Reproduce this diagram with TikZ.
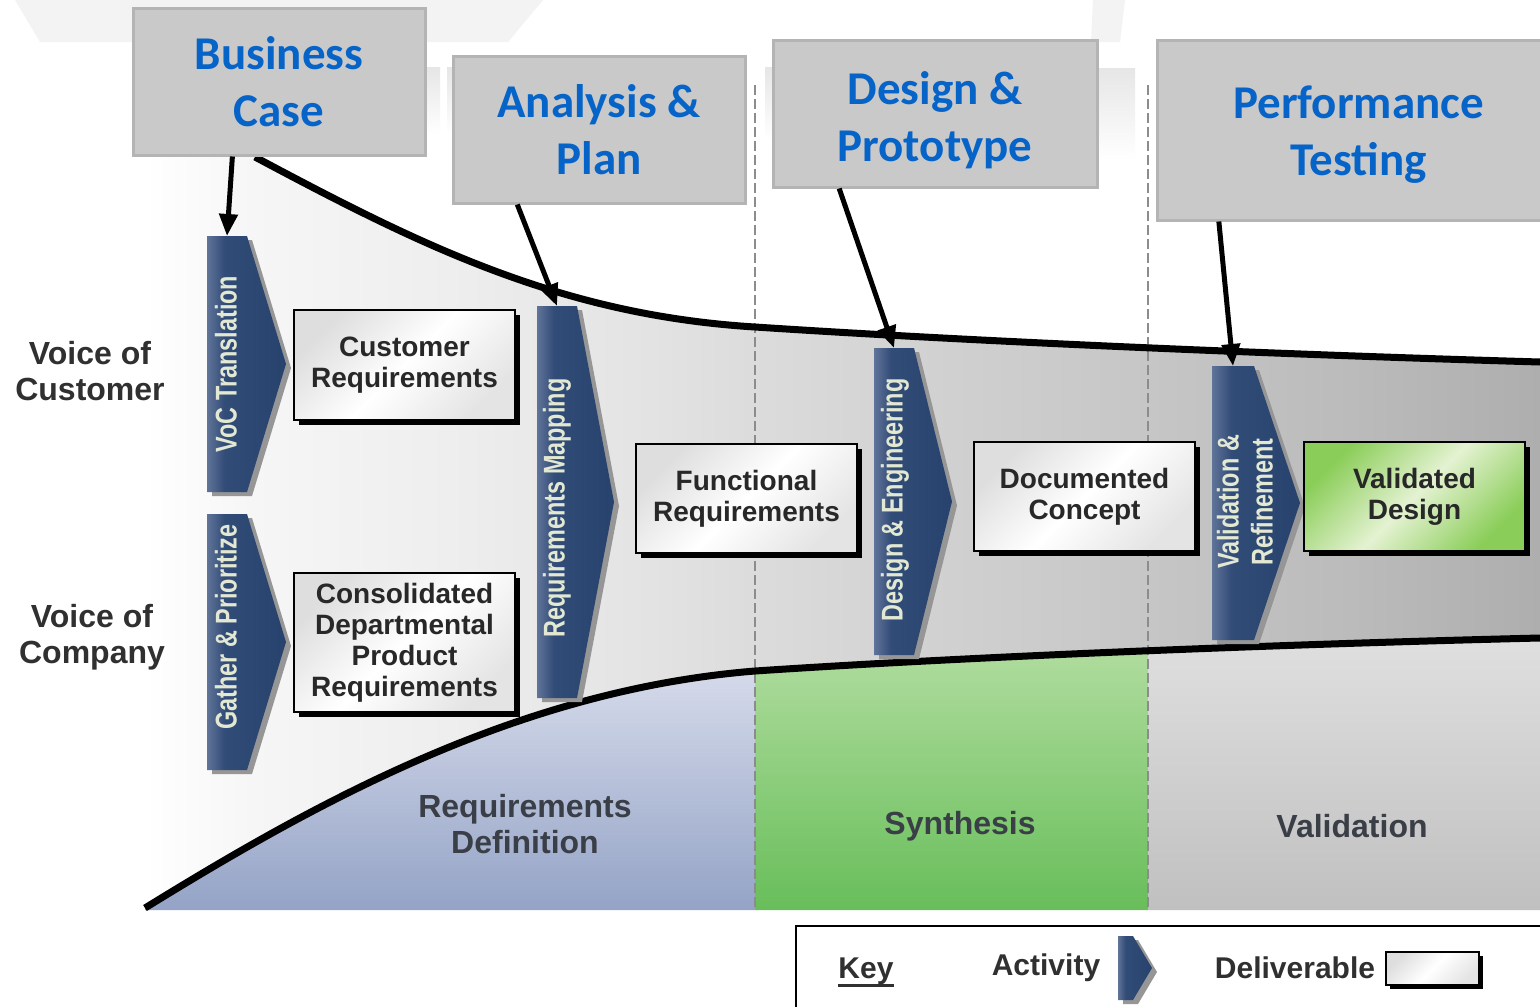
\documentclass[tikz,border=0pt]{standalone}
\usepackage{fontspec}
\setmainfont{Liberation Sans}
\newfontfamily\headfont{Carlito}
\newfontfamily\narrowfont[FakeStretch=0.78]{Liberation Sans}
\usetikzlibrary{arrows.meta,calc,shadows}

% palette
\definecolor{headfill}{RGB}{201,201,201}
\definecolor{headline}{RGB}{180,180,180}
\definecolor{headtext}{RGB}{6,100,200}
\definecolor{chevlight}{RGB}{96,116,152}
\definecolor{chevmid}{RGB}{50,76,120}
\definecolor{chevdark}{RGB}{40,66,110}
\definecolor{chevshadow}{RGB}{150,150,150}
\definecolor{chevtext}{RGB}{226,232,210}
\definecolor{labeltext}{RGB}{48,48,48}
\definecolor{regiontext}{RGB}{58,62,70}
\definecolor{deltext}{RGB}{40,40,40}
\definecolor{delgreyA}{RGB}{222,222,222}
\definecolor{delgreyB}{RGB}{228,228,228}
\definecolor{reqtop}{RGB}{216,221,236}
\definecolor{reqbot}{RGB}{148,163,198}
\definecolor{syntop}{RGB}{178,221,160}
\definecolor{synbot}{RGB}{104,190,90}
\definecolor{valtop}{RGB}{224,224,224}
\definecolor{valbot}{RGB}{192,192,192}
\definecolor{ghost}{RGB}{243,243,243}
\definecolor{ghostB}{RGB}{230,230,230}
\definecolor{greenA}{RGB}{138,205,88}
\definecolor{greenB}{RGB}{228,242,210}
\definecolor{fA}{RGB}{255,255,255}
\definecolor{fB}{RGB}{246,246,246}
\definecolor{fC}{RGB}{238,238,238}
\definecolor{fD}{RGB}{227,227,227}
\definecolor{fE}{RGB}{220,220,220}
\definecolor{fF}{RGB}{208,208,208}
\definecolor{fG}{RGB}{198,198,198}
\definecolor{fH}{RGB}{187,187,187}
\definecolor{fI}{RGB}{174,174,174}

% grey funnel, light on the left, darker to the right
\pgfdeclarehorizontalshading{funnelshade}{100bp}{%
  color(0bp)=(fA); color(25bp)=(fA); color(28.8bp)=(fB); color(35.9bp)=(fC);
  color(43.1bp)=(fD); color(46.7bp)=(fE); color(53.9bp)=(fF); color(61bp)=(fG);
  color(68.2bp)=(fH); color(75bp)=(fI); color(100bp)=(fI)}
% activity chevron body
\pgfdeclarehorizontalshading{chevshade}{100bp}{%
  color(0bp)=(chevlight); color(25bp)=(chevlight); color(36bp)=(chevmid);
  color(75bp)=(chevdark); color(100bp)=(chevdark)}

\tikzset{
  phase/.style={draw=headline, fill=headfill, line width=3pt, inner sep=0pt},
  phasetext/.style={inner sep=0pt, align=center, text=headtext,
    font=\headfont\bfseries\fontsize{47}{57}\selectfont},
  deliv/.style={draw=black, line width=2pt, minimum width=221pt, inner sep=0pt,
    align=center, text=deltext, font=\bfseries\fontsize{28}{31}\selectfont,
    top color=delgreyA, bottom color=delgreyB, middle color=white, shading angle=45,
    drop shadow={shadow xshift=5pt, shadow yshift=-5pt, fill=black, opacity=1}},
  chevlabel/.style={rotate=90, inner sep=0pt, align=center, text=chevtext,
    font=\narrowfont\bfseries\fontsize{30}{34}\selectfont},
  sidelabel/.style={align=center, text=labeltext, font=\bfseries\fontsize{32}{36}\selectfont},
  regionlabel/.style={align=center, text=regiontext, font=\bfseries\fontsize{32}{36}\selectfont},
  keylabel/.style={text=labeltext, font=\bfseries\fontsize{30}{34}\selectfont},
  feed/.style={line width=5pt, -{Triangle[length=22pt,width=18pt]}},
  boundary/.style={line width=7pt, black},
  phaseline/.style={draw=black!45, line width=1.2pt, dash pattern=on 10pt off 4pt},
}

% activity chevron: name, left, top, right of top edge, tip x, bottom
\newcommand\actchev[6]{%
  \fill[chevshadow, shift={(5,4)}] (#2,#3) -- (#4,#3) -- (#5,{(#3+#6)/2}) -- (#4,#6) -- (#2,#6) -- cycle;
  \shade[shading=chevshade] (#2,#3) -- (#4,#3) -- (#5,{(#3+#6)/2}) -- (#4,#6) -- (#2,#6) -- cycle;
  \coordinate (#1) at ({(#2+#4)/2},#3);
}

\begin{document}
\begin{tikzpicture}[x=1pt, y=-1pt]
\useasboundingbox (0,0) rectangle (1540,1007);
\fill[white] (0,0) rectangle (1540,1007);

% faint ribbons behind the phase headers
\fill[ghost] (15,0) -- (543,0) -- (508,42) -- (40,42) -- cycle;
\fill[ghost] (1093,0) -- (1125,0) -- (1120,42) -- (1091,42) -- cycle;
\shade[top color=ghostB, bottom color=white] (425,67) rectangle (440,135);
\shade[top color=ghostB, bottom color=white] (447,67) rectangle (453,135);
\shade[top color=ghostB, bottom color=white] (765,67) rectangle (773,140);
\shade[top color=ghostB, bottom color=white] (1097,68) rectangle (1135,160);

% funnel body
\shade[shading=funnelshade] (145,908) -- (145,157) -- (255,157)
  .. controls (420,245) and (560,315) .. (755,327)
  .. controls (1000,343) and (1300,355) .. (1540,362)
  -- (1540,638)
  .. controls (1250,645) and (950,658) .. (755,671)
  .. controls (520,690) and (320,800) .. (145,908) -- cycle;

% phase areas under the funnel
\begin{scope}
  \clip (145,908) .. controls (320,800) and (520,690) .. (755,671)
    .. controls (950,658) and (1250,645) .. (1540,638) -- (1540,910) -- (145,910) -- cycle;
  \shade[top color=reqtop, bottom color=reqbot] (145,660) rectangle (755,910);
  \shade[top color=syntop, bottom color=synbot] (755,640) rectangle (1148,910);
  \shade[top color=valtop, bottom color=valbot] (1148,630) rectangle (1540,910);
\end{scope}

% phase separators
\draw[phaseline] (755,85) -- (755,910);
\draw[phaseline] (1148,85) -- (1148,910);

% funnel boundaries
\draw[boundary] (255,157) .. controls (420,245) and (560,315) .. (755,327)
  .. controls (1000,343) and (1300,355) .. (1540,362);
\draw[boundary] (145,908) .. controls (320,800) and (520,690) .. (755,671)
  .. controls (950,658) and (1250,645) .. (1540,638);

% phase headers
\node[phase, minimum width=292pt, minimum height=147pt] (bc) at (279,81.5) {};
\node[phase, minimum width=292pt, minimum height=147pt] (ap) at (599,129.5) {};
\node[phase, minimum width=324pt, minimum height=147pt] (dp) at (935,113.5) {};
\node[phase, minimum width=403pt, minimum height=180pt] (pt) at (1358.5,130) {};
\node[phasetext] (bcT) at (279,82) {Business\\Case};
\node[phasetext] (apT) at (599,130) {Analysis \&\\Plan};
\node[phasetext] (dpT) at (935,120) {Design \&\\Prototype};
\node[phasetext] (ptT) at (1358.5,135) {Performance\\Testing};

% activities
\actchev{voc}{207}{236}{247}{286}{492}
\actchev{gat}{207}{514}{247}{286}{770}
\actchev{rmap}{537}{306}{577}{614}{698}
\actchev{deng}{874}{348}{914}{952}{655}
\actchev{vref}{1212}{366}{1254}{1300}{640}
\node[chevlabel] (vocL) at (226,364) {VoC Translation};
\node[chevlabel] (gatL) at (226,627) {Gather \& Prioritize};
\node[chevlabel] (rmapL) at (557,508) {Requirements Mapping};
\node[chevlabel] (dengL) at (895,500) {Design \& Engineering};
\node[chevlabel] (vrefL) at (1245,502) {Validation \&\\Refinement};

% deliverables
\node[deliv, minimum height=110pt] (cr) at (404.5,365) {Customer\\Requirements};
\node[deliv, minimum height=139pt] (cd) at (404.5,642.5) {Consolidated\\Departmental\\Product\\Requirements};
\node[deliv, minimum height=109pt] (fr) at (746.5,498.5) {Functional\\Requirements};
\node[deliv, minimum height=109pt] (dc) at (1084.5,496.5) {Documented\\Concept};
\node[deliv, minimum height=109pt, top color=greenA, bottom color=greenA,
  middle color=greenB, shading angle=45] (vd) at (1414.5,496.5) {Validated\\Design};

% header to activity links
\draw[feed] ($(bc.south west)!0.342!(bc.south east)$) -- (voc);
\draw[feed] ($(ap.south west)!0.223!(ap.south east)$) -- (rmap);
\draw[feed] ($(dp.south west)!0.207!(dp.south east)$) -- (deng);
\draw[feed] ($(pt.south west)!0.156!(pt.south east)$) -- (vref);

% side labels
\node[sidelabel] (voccust) at (90,371) {Voice of\\Customer};
\node[sidelabel] (voccomp) at (92,637) {Voice of\\Company};

% phase names
\node[regionlabel] (reqdef) at (525,824) {Requirements\\Definition};
\node[regionlabel] (synth) at (960,826) {Synthesis};
\node[regionlabel] (valid) at (1352,826) {Validation};

% legend
\draw[line width=2pt] (1545,926) -- (796,926) -- (796,1012);
\node[keylabel, inner sep=0pt] (keyt) at (866,971) {Key};
\draw[line width=3pt, labeltext] ($(keyt.base west)+(0,7)$) -- ($(keyt.base east)+(0,7)$);
\node[keylabel] (acty) at (1046,968) {Activity};
\actchev{keyact}{1118}{936}{1133}{1152}{1000}
\node[keylabel] (delv) at (1295,968) {Deliverable};
\node[draw=black, line width=2pt, minimum width=93pt, minimum height=33pt, inner sep=0pt,
  top color=delgreyA, bottom color=delgreyB, middle color=white, shading angle=45,
  drop shadow={shadow xshift=4pt, shadow yshift=-4pt, fill=black, opacity=1}] (keydel) at (1432.5,968.5) {};
\end{tikzpicture}
\end{document}
